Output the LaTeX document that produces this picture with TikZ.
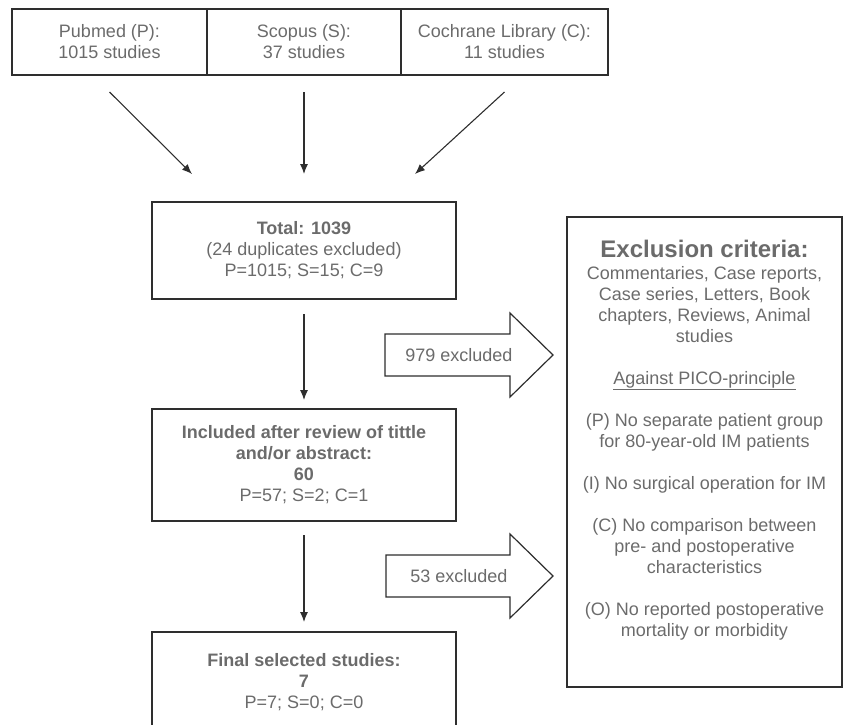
\documentclass[tikz,border=0pt]{standalone}
\usepackage{fontspec}
\setmainfont{Liberation Sans}
\usetikzlibrary{arrows.meta,positioning}
\definecolor{txtgray}{gray}{0.42}
\definecolor{rulegray}{gray}{0.18}

\begin{document}
\begin{tikzpicture}[x=1pt,y=-1pt,
  box/.style={draw=rulegray,line width=1.3pt,outer sep=0pt,inner sep=0pt,
    align=center,text=txtgray,font=\fontsize{18}{21}\selectfont},
  arr/.style={draw=rulegray,line width=1.1pt,-{Latex[length=10pt,width=8pt]}},
  bigarr/.style={draw=rulegray,line width=1.2pt,fill=white},
  label/.style={text=txtgray,font=\fontsize{18}{21}\selectfont}]
\useasboundingbox (0,0) rectangle (844,724);
% databases
\node[box,minimum width=195pt,minimum height=66pt] (pubmed) at (109.5,42) {Pubmed (P):\\1015 studies};
\node[box,minimum width=194pt,minimum height=66pt,right=0pt of pubmed] (scopus) {Scopus (S):\\37 studies};
\node[box,minimum width=207pt,minimum height=66pt,right=0pt of scopus] (cochrane) {Cochrane Library (C):\\11 studies};
% screening steps
\node[box,minimum width=304pt,minimum height=97pt] (total) at (304,250.5)
  {\textbf{Total: 1039}\\(24 duplicates excluded)\\P=1015; S=15; C=9};
\node[box,minimum width=304pt,minimum height=112pt] (included) at (304,465)
  {\textbf{Included after review of tittle}\\\textbf{and/or abstract:}\\\textbf{60}\\P=57; S=2; C=1};
\node[box,minimum width=304pt,minimum height=100pt] (final) at (304,682)
  {\textbf{Final selected studies:}\\\textbf{7}\\P=7; S=0; C=0};
% exclusion criteria
\node[box,minimum width=275pt,minimum height=470pt] (excl) at (704.5,452) {};
\node[label,font=\fontsize{24}{28}\selectfont\bfseries] (exclhead) at (704.5,249) {Exclusion criteria:};
\node[label,align=center,inner sep=0pt,anchor=north] (reasons) at (704.5,266)
  {Commentaries, Case reports,\\Case series, Letters, Book\\chapters, Reviews, Animal\\studies\\[21pt]
   \underline{Against PICO-principle}\\[21pt]
   (P) No separate patient group\\for 80-year-old IM patients\\[21pt]
   (I) No surgical operation for IM\\[21pt]
   (C) No comparison between\\pre- and postoperative\\characteristics\\[21pt]
   (O) No reported postoperative\\mortality or morbidity};
% arrows
\coordinate (merge1) at (192,174);
\coordinate (merge3) at (415,174);
\draw[arr] ([yshift=-17pt]pubmed.south) -- (merge1);
\draw[arr,shorten <=17pt,shorten >=28pt] (scopus.south) -- (total.north);
\draw[arr] ([yshift=-17pt]cochrane.south) -- (merge3);
\draw[arr,shorten <=15pt,shorten >=9pt] (total) -- (included);
\draw[arr,shorten <=14pt,shorten >=10pt] (included) -- (final);
% excluded records
\draw[bigarr] (385,334) -- (510,334) -- (510,313) -- (553,355) -- (510,397) -- (510,376) -- (385,376) -- cycle;
\node[label] (cut1) at (459,355) {979 excluded};
\draw[bigarr] (386,555) -- (510,555) -- (510,534) -- (553,576) -- (510,618) -- (510,597) -- (386,597) -- cycle;
\node[label] (cut2) at (459,576) {53 excluded};
\end{tikzpicture}
\end{document}
